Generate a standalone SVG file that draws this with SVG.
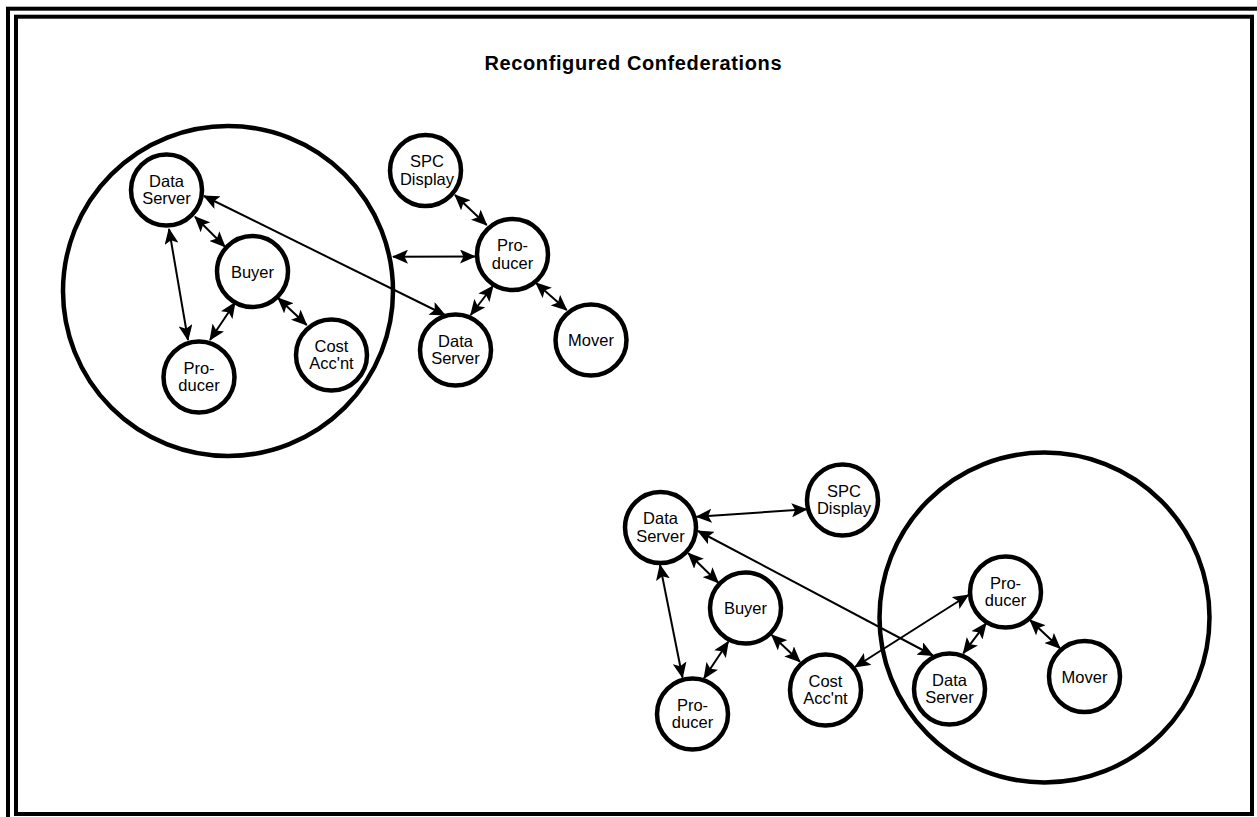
<svg xmlns="http://www.w3.org/2000/svg" width="1257" height="817" viewBox="0 0 1257 817">
  <style>
    .frame { fill: none; stroke: #000; stroke-width: 4; }
    .node circle { fill: #fff; stroke: #000; stroke-width: 4.5; }
    .group { fill: none; stroke: #000; stroke-width: 4.5; }
    .node text { font-family: "Liberation Sans", Arial, sans-serif; font-size: 16.5px; fill: #000; text-anchor: middle; }
    .title { font-family: "Liberation Sans", Arial, sans-serif; font-size: 20px; font-weight: bold; fill: #000; text-anchor: middle; }
    .conn line { stroke: #000; stroke-width: 2; marker-start: url(#head); marker-end: url(#head); }
  </style>
  <defs>
    <marker id="head" markerUnits="userSpaceOnUse" viewBox="0 0 16 14" markerWidth="16" markerHeight="14" refX="15" refY="7" orient="auto-start-reverse">
      <path d="M0,0 L16,7 L0,14 L3.5,7 Z" fill="#000"/>
    </marker>
  </defs>

  <rect width="1257" height="817" fill="#fff"/>

  <!-- double frame -->
  <rect class="frame" x="8" y="8.7" width="1260" height="820"/>
  <rect class="frame" x="16" y="16.7" width="1236" height="797.3"/>

  <text class="title" x="633" y="70" textLength="297" lengthAdjust="spacing">Reconfigured Confederations</text>

  <!-- confederation boundaries -->
  <circle id="confed-left" class="group" cx="228" cy="291" r="165"/>
  <circle id="confed-right" class="group" cx="1044.5" cy="617.5" r="165"/>

  <!-- connectors -->
  <g id="connectors" class="conn">
    <line x1="195" y1="216.7" x2="225" y2="246.7"/>
    <line x1="169" y1="229" x2="188" y2="340"/>
    <line x1="235" y1="302.7" x2="210" y2="340"/>
    <line x1="278" y1="298" x2="306.7" y2="325"/>
    <line x1="204" y1="196" x2="445" y2="315"/>
    <line x1="393" y1="256.7" x2="475" y2="256.5"/>
    <line x1="455" y1="195" x2="486.7" y2="225"/>
    <line x1="493" y1="286" x2="470.7" y2="315"/>
    <line x1="536" y1="283" x2="566.7" y2="310"/>
    <line x1="696.7" y1="516.7" x2="806.7" y2="509.3"/>
    <line x1="698" y1="531" x2="933" y2="655.5"/>
    <line x1="688.3" y1="553.3" x2="718.3" y2="582.7"/>
    <line x1="660" y1="565" x2="682.5" y2="677.5"/>
    <line x1="728.3" y1="641.7" x2="704" y2="678.3"/>
    <line x1="771.7" y1="635" x2="800" y2="661.7"/>
    <line x1="855" y1="667" x2="968.3" y2="595"/>
    <line x1="986" y1="623.3" x2="963.3" y2="653.3"/>
    <line x1="1030" y1="620" x2="1060" y2="648.3"/>
  </g>

  <!-- upper-left confederation -->
  <g id="ds-a" class="node"><circle cx="166.5" cy="190" r="35.5"/><text x="166.5" y="186.5">Data</text><text x="166.5" y="204">Server</text></g>
  <g id="buyer-a" class="node"><circle cx="252.5" cy="271.5" r="35.5"/><text x="252.5" y="277.5">Buyer</text></g>
  <g id="producer-a" class="node"><circle cx="199" cy="377" r="35.5"/><text x="199" y="373.5">Pro-</text><text x="199" y="391">ducer</text></g>
  <g id="cost-a" class="node"><circle cx="331.5" cy="355" r="35.5"/><text x="331.5" y="351.5">Cost</text><text x="331.5" y="369">Acc'nt</text></g>

  <!-- upper-middle group -->
  <g id="spc-a" class="node"><circle cx="425.5" cy="170.5" r="35.5"/><text x="427" y="167">SPC</text><text x="427" y="184.5">Display</text></g>
  <g id="producer-b" class="node"><circle cx="512.5" cy="254.5" r="35.5"/><text x="512.5" y="251">Pro-</text><text x="512.5" y="268.5">ducer</text></g>
  <g id="ds-b" class="node"><circle cx="455.5" cy="350" r="35.5"/><text x="455.5" y="346.5">Data</text><text x="455.5" y="364">Server</text></g>
  <g id="mover-a" class="node"><circle cx="591" cy="340" r="35.5"/><text x="591" y="346">Mover</text></g>

  <!-- lower-left group -->
  <g id="ds-c" class="node"><circle cx="660.5" cy="527.5" r="35.5"/><text x="660.5" y="524">Data</text><text x="660.5" y="541.5">Server</text></g>
  <g id="spc-b" class="node"><circle cx="842.5" cy="500" r="35.5"/><text x="844" y="496.5">SPC</text><text x="844" y="514">Display</text></g>
  <g id="buyer-b" class="node"><circle cx="745.5" cy="608" r="35.5"/><text x="745.5" y="614">Buyer</text></g>
  <g id="cost-b" class="node"><circle cx="825.5" cy="690" r="35.5"/><text x="825.5" y="686.5">Cost</text><text x="825.5" y="704">Acc'nt</text></g>
  <g id="producer-c" class="node"><circle cx="692.5" cy="714" r="35.5"/><text x="692.5" y="710.5">Pro-</text><text x="692.5" y="728">ducer</text></g>

  <!-- lower-right confederation -->
  <g id="producer-d" class="node"><circle cx="1005.5" cy="592" r="35.5"/><text x="1005.5" y="588.5">Pro-</text><text x="1005.5" y="606">ducer</text></g>
  <g id="ds-d" class="node"><circle cx="949.5" cy="689" r="35.5"/><text x="949.5" y="685.5">Data</text><text x="949.5" y="703">Server</text></g>
  <g id="mover-b" class="node"><circle cx="1084.5" cy="676.5" r="35.5"/><text x="1084.5" y="682.5">Mover</text></g>
</svg>
